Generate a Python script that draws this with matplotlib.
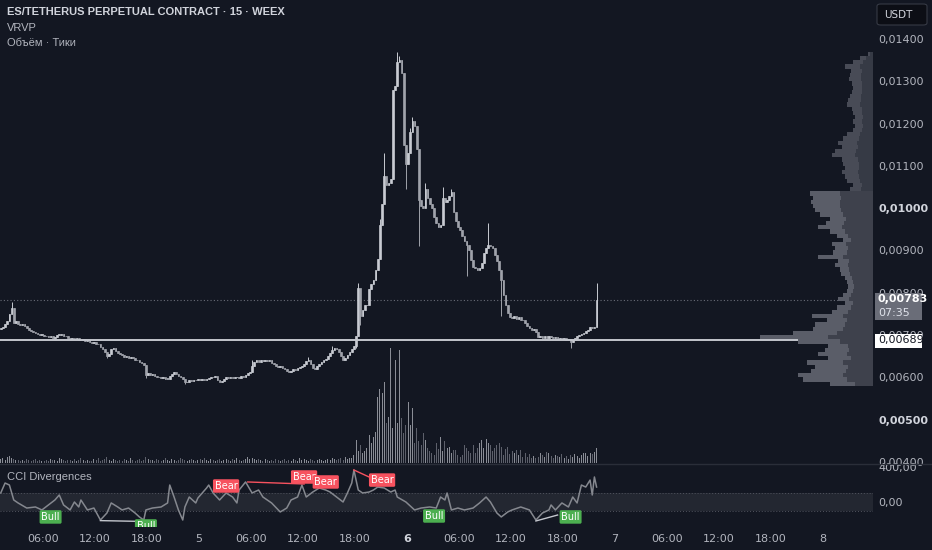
import numpy as np
import matplotlib
matplotlib.use('Agg')
import matplotlib.pyplot as plt
from matplotlib.patches import Rectangle, FancyBboxPatch
from matplotlib.lines import Line2D

plt.rcParams['font.family'] = ['DejaVu Sans']
LABEL_FONT = ['Liberation Sans', 'DejaVu Sans']

W, H = 932, 550
BG = '#131722'
TXT = '#b2b5be'

# ---- data (15-min candles, prices in 1e-5 USDT) ----
closes = [
    717, 719, 726, 733, 750, 764, 729, 733, 727, 724,
    726, 722, 717, 712, 710, 707, 705, 702, 700, 701,
    698, 697, 695, 697, 694, 696, 700, 701, 703, 699,
    697, 693, 691, 692, 690, 693, 689, 688, 690, 686,
    688, 684, 681, 683, 680, 678, 672, 667, 660, 650,
    655, 668, 670, 662, 658, 655, 652, 648, 650, 646,
    648, 645, 642, 640, 637, 633, 629, 606, 610, 606,
    607, 603, 601, 600, 598, 600, 596, 597, 603, 608,
    612, 608, 604, 600, 596, 588, 590, 594, 592, 595,
    593, 596, 594, 597, 593, 596, 599, 601, 600, 603,
    594, 590, 592, 597, 600, 598, 601, 598, 600, 602,
    599, 603, 600, 605, 610, 612, 628, 637, 640, 636,
    642, 638, 641, 639, 641, 635, 631, 628, 625, 627,
    622, 619, 616, 613, 616, 620, 618, 622, 624, 627,
    632, 638, 642, 632, 622, 620, 627, 632, 636, 640,
    644, 650, 658, 664, 670, 666, 659, 650, 641, 646,
    652, 660, 668, 674, 698, 812, 745, 760, 770, 772,
    810, 820, 830, 855, 880, 960, 1010, 1075, 1055, 1060,
    1070, 1280, 1290, 1345, 1350, 1320, 1150, 1105, 1130, 1180,
    1205, 1195, 1140, 1020, 1005, 1000, 1045, 1025, 1010, 1000,
    980, 965, 955, 960, 1025, 1015, 1020, 1030, 1038, 990,
    970, 955, 948, 935, 922, 912, 900, 878, 862, 858,
    855, 858, 870, 893, 905, 912, 910, 905, 890, 875,
    855, 830, 795, 770, 752, 742, 740, 745, 738, 742,
    736, 735, 728, 722, 716, 712, 714, 708, 695, 698,
    694, 697, 693, 699, 696, 692, 695, 691, 694, 690,
    693, 689, 691, 684, 688, 694, 698, 700, 703, 706,
    710, 713, 719, 716, 718, 783,
]
first_open = 715
wick_hi = {5: 778, 116: 640, 142: 648, 153: 675, 165: 823, 175: 975, 177: 1130,
           183: 1369, 184: 1360, 189: 1190, 190: 1215, 196: 1060, 204: 1050,
           208: 1045, 225: 965, 275: 823}
wick_lo = {49: 645, 67: 598, 85: 584, 164: 670, 166: 725, 187: 1045, 193: 910,
           215: 840, 231: 745, 263: 670}

volumes = [
    4, 5, 3, 6, 7, 5, 4, 3, 3, 2, 3, 2, 4, 3, 2, 3, 4, 2, 3, 2,
    2, 3, 2, 4, 3, 3, 2, 5, 4, 3, 2, 3, 3, 2, 4, 2, 3, 5, 3, 2,
    3, 2, 2, 4, 3, 5, 2, 3, 4, 6, 3, 2, 4, 3, 2, 3, 2, 4, 3, 2,
    5, 3, 2, 3, 4, 2, 3, 6, 4, 3, 3, 2, 4, 3, 2, 3, 5, 3, 2, 4,
    3, 2, 3, 5, 4, 3, 2, 3, 4, 3, 2, 3, 4, 3, 5, 3, 2, 4, 3, 2,
    3, 4, 2, 3, 4, 3, 2, 4, 3, 5, 3, 2, 3, 4, 6, 4, 5, 4, 3, 4,
    3, 2, 4, 3, 2, 3, 2, 4, 3, 2, 3, 4, 2, 3, 2, 4, 3, 2, 5, 3,
    4, 3, 2, 4, 3, 2, 3, 4, 3, 2, 3, 4, 3, 5, 4, 3, 4, 5, 3, 6,
    4, 5, 5, 8, 23, 12, 18, 10, 12, 15, 28, 20, 26, 31, 66, 74, 70, 81, 40, 46,
    115, 35, 103, 40, 113, 45, 30, 38, 61, 38, 55, 20, 35, 22, 18, 30, 23, 15, 12, 10,
    8, 20, 14, 26, 12, 22, 15, 16, 10, 13, 13, 8, 6, 8, 18, 15, 12, 10, 18, 10,
    15, 20, 23, 15, 24, 20, 18, 12, 15, 18, 20, 16, 8, 14, 16, 9, 12, 10, 13, 8,
    13, 6, 10, 6, 9, 5, 7, 5, 6, 10, 8, 6, 11, 10, 7, 5, 8, 7, 6, 9,
    5, 7, 4, 8, 6, 9, 7, 5, 8, 10, 10, 7, 10, 9, 11, 15,
]

cci_idx = [0, 2, 4, 6, 8, 12, 16, 19, 22, 25, 27, 29, 32, 34, 36, 37, 40, 43, 46, 49,
           51, 54, 56, 59, 62, 64, 66, 67, 70, 74, 77, 78, 80, 82, 84, 85, 87, 90, 91, 93,
           95, 96, 98, 101, 104, 107, 109, 110, 113, 116, 119, 121, 125, 129, 132, 134, 137, 139, 141, 144,
           147, 150, 152, 155, 158, 160, 162, 163, 165, 167, 170, 172, 174, 177, 180, 182, 183, 187, 191, 194,
           198, 201, 203, 205, 206, 208, 211, 214, 218, 221, 224, 226, 229, 231, 234, 236, 240, 244, 247, 250,
           253, 254, 256, 259, 262, 264, 266, 268, 270, 272, 273, 274, 275]
cci_val = [103, 217, 194, 23, -11, -69, -57, -91, -34, 23, 80, -34, -91, 0, -57, 23, -91, -69, -206, -126,
           -11, -57, -91, -69, -126, -171, -206, -91, -69, -57, -11, 194, 57, -91, -206, -57, 57, -11, 46, 103,
           160, 194, 103, 23, 103, 57, -11, 137, 229, 103, 137, 57, -11, -114, -69, 23, 57, 194, 57, 114,
           160, 137, 114, 57, 0, 103, 217, 366, 137, 103, 114, 137, 171, 160, 114, 137, 57, 0, -91, -69,
           -57, -69, 57, 23, 103, -91, -69, -91, -69, -11, 57, 0, -126, -171, -114, -91, -57, -91, -206, -126,
           -91, -34, -91, -11, -57, 57, -11, 194, 171, 251, 80, 286, 171]

# divergence lines: (start candle, start cci, end candle, end cci)
bull_lines = [(46, -213, 71, -225), (247, -217, 257, -149)]
bear_lines = [(114, 229, 140, 206), (163, 366, 170, 286)]
bull_labels = [(23, -171), (67, -274), (200, -160), (263, -171)]
bear_labels = [(104, 183), (140, 286), (150, 229), (176, 251)]

# visible range volume profile, bins of 0.0001
vp_low = list(range(580, 1361, 10))
vp_total = [43, 70, 75, 62, 58, 66, 45, 55, 48, 45, 75,
            113, 80, 60, 58, 46, 61, 41, 36, 28, 35, 30,
            26, 25, 26, 28, 32, 33, 38, 35, 55, 40, 38,
            41, 30, 36, 43, 55, 47, 43, 53, 58, 60, 62,
            60, 63, 23, 20, 26, 28, 31, 28, 30, 31, 41,
            38, 31, 35, 30, 26, 20, 18, 20, 18, 20, 21,
            26, 25, 23, 21, 20, 21, 24, 23, 22, 28, 20,
            13, 5]
vp_up = [18, 26, 30, 27, 25, 30, 22, 26, 24, 25, 33,
         45, 36, 30, 28, 26, 30, 25, 22, 20, 24, 22,
         20, 19, 20, 21, 23, 24, 25, 24, 30, 26, 25,
         27, 22, 25, 28, 31, 29, 27, 30, 32, 33, 33,
         32, 33, 12, 11, 13, 14, 15, 14, 14, 15, 18,
         17, 15, 16, 14, 13, 11, 10, 11, 10, 11, 11,
         13, 12, 12, 11, 11, 11, 12, 12, 11, 13, 10,
         7, 3]
va_top = 1040

last_price = 783
hline_price = 689
price_ticks = [1400, 1300, 1200, 1100, 1000, 900, 800, 700, 600, 500, 400]
time_ticks = [6, 12, 18, 24, 30, 36, 42, 48, 54, 60, 66, 72, 78, 84, 90, 96]
time_labels = ['06:00', '12:00', '18:00', '5', '06:00', '12:00', '18:00', '6',
               '06:00', '12:00', '18:00', '7', '06:00', '12:00', '18:00', '8']

# ---- geometry ----
n = len(closes)
t = 1.125 + 0.25 * np.arange(n)          # hours since day 4 00:00
opens = np.array([first_open] + closes[:-1], dtype=float)
closes_a = np.array(closes, dtype=float)
highs = np.maximum(opens, closes_a)
lows = np.minimum(opens, closes_a)
for k, v in wick_hi.items():
    highs[k] = max(highs[k], v)
for k, v in wick_lo.items():
    lows[k] = min(lows[k], v)


def fx(x):
    return x / W


def fy(y):
    return 1 - y / H


XLIM = (1.039, 101.77)
plot_w = 873 / W

fig = plt.figure(figsize=(W / 100, H / 100), dpi=100, facecolor=BG)
ax = fig.add_axes([0, fy(463), plot_w, 463 / H], facecolor=BG)
axc = fig.add_axes([0, fy(527), plot_w, 64 / H], facecolor=BG)

# volume overlay
axv = ax.twinx()
up = closes_a >= opens
vcol = np.where(up, '#8a8d96', '#5d606b')
axv.bar(t, volumes, width=0.11, color=vcol, linewidth=0)
axv.set_ylim(0, 463)
axv.axis('off')

# candles
ccol = np.where(up, '#c8cbd2', '#a0a3ab')
ax.vlines(t, lows, highs, colors=ccol, linewidth=0.7, zorder=3)
body_lo = np.minimum(opens, closes_a)
body_h = np.maximum(np.abs(closes_a - opens), 1.5)
ax.bar(t, body_h, bottom=body_lo, width=0.19, color=ccol, edgecolor=ccol,
       linewidth=0.5, zorder=4)

ax.axhline(hline_price, color='#c3c6cd', linewidth=1.4, zorder=5)
ax.axhline(last_price, color='#6a6d78', linewidth=0.8, linestyle=(0, (1, 2)), zorder=2)

ax.set_xlim(*XLIM)
ax.set_ylim(397.6, 1492.2)
ax.set_xticks([])
ax.yaxis.tick_right()
ax.set_yticks(price_ticks)
ax.set_yticklabels([f'0,{p:05d}' for p in price_ticks])
ax.tick_params(axis='y', length=0, pad=4, labelcolor=TXT, labelsize=8)
for lab, p in zip(ax.get_yticklabels(), price_ticks):
    if p in (1000, 500):
        lab.set_fontweight('bold')
        lab.set_color('#d1d4dc')
for s in ax.spines.values():
    s.set_visible(False)

# volume profile
axp = ax.twiny()
axp.set_xlim(873, 0)
axp.axis('off')
for lo, tot, u in zip(vp_low, vp_total, vp_up):
    in_va = lo < va_top
    c_tot = '#5a5d68' if in_va else '#484b56'
    c_up = '#3e414c' if in_va else '#363a45'
    axp.barh(lo + 5, tot, height=10, left=0, color=c_tot, linewidth=0, zorder=2)
    axp.barh(lo + 5, u, height=10, left=0, color=c_up, linewidth=0, zorder=3)

# CCI pane
tc = 1.125 + 0.25 * np.array(cci_idx)
axc.axhspan(-100, 100, color='#b2b5be', alpha=0.1, linewidth=0)
axc.axhline(100, color='#50535e', linewidth=0.7, linestyle=(0, (1, 2)))
axc.axhline(-100, color='#50535e', linewidth=0.7, linestyle=(0, (1, 2)))
axc.plot(tc, cci_val, color='#85888f', linewidth=1.1)
for i0, v0, i1, v1 in bull_lines:
    axc.plot([1.125 + 0.25 * i0, 1.125 + 0.25 * i1], [v0, v1], color='#c3c6cd', linewidth=1.0)
for i0, v0, i1, v1 in bear_lines:
    axc.plot([1.125 + 0.25 * i0, 1.125 + 0.25 * i1], [v0, v1], color='#f7525f', linewidth=1.0)
for i0, v in bull_labels:
    axc.text(1.125 + 0.25 * i0, v, 'Bull', ha='center', va='center', color='white',
             fontsize=7, clip_on=True, zorder=6,
             bbox=dict(boxstyle='round,pad=0.18,rounding_size=0.15', fc='#4caf50', ec='none'))
for i0, v in bear_labels:
    axc.text(1.125 + 0.25 * i0, v, 'Bear', ha='center', va='center', color='white',
             fontsize=7, clip_on=True, zorder=6,
             bbox=dict(boxstyle='round,pad=0.18,rounding_size=0.15', fc='#f7525f', ec='none'))
axc.set_xlim(*XLIM)
axc.set_ylim(-286, 446)
axc.yaxis.tick_right()
axc.set_yticks([400, 0])
axc.set_yticklabels(['400,00', '0,00'])
axc.tick_params(axis='y', length=0, pad=4, labelcolor=TXT, labelsize=8)
axc.set_xticks(time_ticks)
axc.set_xticklabels(time_labels)
axc.tick_params(axis='x', length=0, pad=5, labelcolor=TXT, labelsize=8)
for lab, s in zip(axc.get_xticklabels(), time_labels):
    if s == '6':
        lab.set_fontweight('bold')
        lab.set_color('#d1d4dc')
for s in axc.spines.values():
    s.set_visible(False)
axc.text(7 / 873, 1 - 14 / 64, 'CCI Divergences', transform=axc.transAxes,
         ha='left', va='center', color=TXT, fontsize=8, family=LABEL_FONT)

# pane separator
fig.add_artist(Line2D([0, 1], [fy(463.5)] * 2, color='#2a2e39', linewidth=1))

# header texts
fig.text(fx(7), fy(12), 'ES/TETHERUS PERPETUAL CONTRACT · 15 · WEEX', ha='left', va='center',
         color='#d1d4dc', fontsize=8, fontweight='bold', family=LABEL_FONT)
fig.text(fx(7), fy(28), 'VRVP', ha='left', va='center', color=TXT, fontsize=8, family=LABEL_FONT)
fig.text(fx(7), fy(43), 'Объём · Тики', ha='left', va='center', color=TXT, fontsize=8,
         family=LABEL_FONT)

# USDT box
fig.add_artist(FancyBboxPatch((fx(877), fy(25)), fx(50), 21 / H,
                              boxstyle='round,pad=0,rounding_size=0.004',
                              transform=fig.transFigure, fc='#0c0e15', ec='#363a45', lw=0.8))
fig.text(fx(884), fy(14.5), 'USDT', ha='left', va='center', color='#d1d4dc', fontsize=7.5)

# price tags
fig.add_artist(Rectangle((fx(875), fy(320)), fx(47), 27 / H, transform=fig.transFigure,
                         fc='#6a6d78', ec='none'))
fig.text(fx(878), fy(299.5), f'0,{last_price:05d}', ha='left', va='center', color='white',
         fontsize=8, fontweight='bold')
fig.text(fx(878), fy(312.5), '07:35', ha='left', va='center', color='#e0e3eb', fontsize=8)
fig.add_artist(Rectangle((fx(875), fy(347.5)), fx(47), 14 / H, transform=fig.transFigure,
                         fc='white', ec='none'))
fig.text(fx(878), fy(340.5), f'0,{hline_price:05d}', ha='left', va='center', color='#131722',
         fontsize=8)

fig.savefig('out.png', dpi=100, facecolor=BG)
